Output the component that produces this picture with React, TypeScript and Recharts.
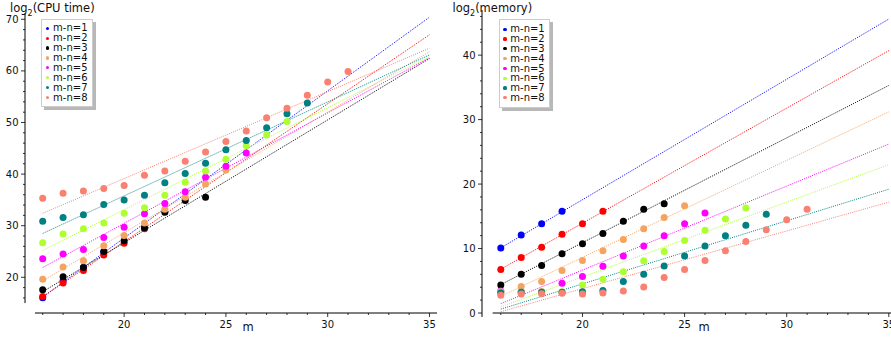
import React from 'react';
import { ComposedChart, Scatter, Line, XAxis, YAxis, ReferenceLine } from 'recharts';

// first m of every series
const firstM = 16;
const fitM = [16, 35];

const seriesNames = ['m-n=1', 'm-n=2', 'm-n=3', 'm-n=4', 'm-n=5', 'm-n=6', 'm-n=7', 'm-n=8'];
const seriesColors = ['#0000ff', '#ff0000', '#000000', '#f4a460', '#ff00ff', '#adff2f', '#008080', '#fa8072'];

// log2(CPU time), one list per m-n, starting at m = 16
const cpuTime = [
  [16.05, 19.3, 21.9, 24.9],
  [16.3, 18.9, 21.3, 24.3, 26.6, 29.4],
  [17.6, 20.1, 21.9, 25.0, 27.1, 29.6, 32.6, 34.9, 35.5],
  [19.6, 22.0, 23.2, 26.1, 28.1, 30.5, 33.2, 35.5, 38.1, 40.8],
  [23.6, 24.5, 25.4, 27.7, 29.7, 32.3, 34.3, 36.6, 39.4, 41.5, 44.1],
  [26.7, 28.4, 29.4, 30.5, 32.4, 33.5, 35.9, 38.4, 40.6, 42.9, 45.5, 47.6, 50.2],
  [30.85, 31.6, 32.1, 34.1, 35.0, 35.9, 38.3, 40.1, 42.1, 44.7, 46.5, 49.0, 51.7, 53.8],
  [35.3, 36.3, 36.7, 37.2, 37.8, 39.8, 40.6, 42.5, 44.3, 46.3, 48.35, 50.9, 52.75, 55.3, 57.85, 59.9],
];
// fitted lines, value at m = 16 and m = 35
const cpuFit = [
  [16.2, 70.4],
  [16.2, 67.0],
  [17.2, 62.4],
  [19.3, 63.7],
  [21.9, 62.55],
  [25.2, 62.75],
  [28.5, 63.1],
  [32.4, 64.4],
];

// log2(memory)
const memory = [
  [10.1, 12.1, 13.85, 15.8],
  [6.75, 8.6, 10.2, 12.2, 13.85, 15.8],
  [4.35, 6.0, 7.35, 9.2, 10.75, 12.35, 14.25, 16.1, 16.95],
  [3.3, 4.1, 4.9, 6.6, 8.15, 9.65, 11.4, 13.05, 14.8, 16.65],
  [3.4, 3.3, 3.3, 4.6, 5.65, 7.25, 8.85, 10.4, 12.0, 13.85, 15.5],
  [3.3, 3.3, 3.3, 3.3, 4.35, 5.25, 6.4, 8.1, 9.55, 11.25, 12.85, 14.6, 16.3],
  [3.15, 3.2, 3.2, 3.2, 3.3, 3.5, 4.9, 6.0, 7.3, 8.85, 10.4, 12.0, 13.6, 15.3],
  [2.75, 2.95, 3.0, 3.05, 2.95, 3.1, 3.4, 4.05, 5.5, 6.75, 8.15, 9.65, 11.1, 12.9, 14.45, 16.1],
];
const memoryFit = [
  [10.1, 45.6],
  [6.8, 40.7],
  [4.4, 35.3],
  [2.6, 31.2],
  [1.45, 26.2],
  [0.95, 23.0],
  [0.6, 19.2],
  [0.2, 17.2],
];

const xTicks = [16, 17, 18, 19, 20, 21, 22, 23, 24, 25, 26, 27, 28, 29, 30, 31, 32, 33, 34, 35];
const cpuTicks = [16, 18, 20, 22, 24, 26, 28, 30, 32, 34, 36, 38, 40, 42, 44, 46, 48, 50, 52, 54, 56, 58, 60, 62, 64, 66, 68, 70];
const memoryTicks = [0, 2, 4, 6, 8, 10, 12, 14, 16, 18, 20, 22, 24, 26, 28, 30, 32, 34, 36, 38, 40, 42, 44, 46];

const FONT = '"DejaVu Sans", sans-serif';

const toPoints = (vals: number[]) => vals.map((v, i) => ({ m: firstM + i, v }));
const toFit = (ends: number[]) => ends.map((v, i) => ({ m: fitM[i], v }));

const XTick = ({ x, y, payload }: any) => {
  const major = payload.value % 5 === 0;
  return (
    <g>
      <line x1={x} x2={x} y1={y} y2={y + (major ? 4 : 2)} stroke="#000" strokeWidth={0.8} />
      {major && (
        <text x={x} y={y + 15} textAnchor="middle" fontSize={10} fontFamily={FONT} fill="#111">
          {payload.value}
        </text>
      )}
    </g>
  );
};

const YTick = ({ x, y, payload }: any) => {
  const major = payload.value % 10 === 0;
  return (
    <g>
      <line x1={x - (major ? 4 : 2)} x2={x} y1={y} y2={y} stroke="#000" strokeWidth={0.8} />
      {major && (
        <text x={x - 6.5} y={y + 3.6} textAnchor="end" fontSize={10} fontFamily={FONT} fill="#111">
          {payload.value}
        </text>
      )}
    </g>
  );
};

interface PanelProps {
  width: number;
  height: number;
  margin: { top: number; right: number; bottom: number; left: number };
  yAxisWidth: number;
  xDomain: [number, number];
  yDomain: [number, number];
  yTicks: number[];
  points: number[][];
  fits: number[][];
  xAxisFrom: number;
  yAxisFrom: number;
}

const Panel = ({ width, height, margin, yAxisWidth, xDomain, yDomain, yTicks, points, fits, xAxisFrom, yAxisFrom }: PanelProps) => (
  <ComposedChart width={width} height={height} margin={margin}>
    <XAxis
      dataKey="m"
      type="number"
      domain={xDomain}
      ticks={xTicks}
      interval={0}
      allowDataOverflow
      axisLine={false}
      tickLine={false}
      tickSize={0}
      tickMargin={0}
      height={25}
      tick={<XTick />}
    />
    <YAxis
      dataKey="v"
      type="number"
      domain={yDomain}
      ticks={yTicks}
      interval={0}
      allowDataOverflow
      axisLine={false}
      tickLine={false}
      tickSize={0}
      tickMargin={0}
      width={yAxisWidth}
      tick={<YTick />}
    />
    <ReferenceLine
      segment={[{ x: xAxisFrom, y: yDomain[0] }, { x: xDomain[1], y: yDomain[0] }]}
      stroke="#000"
      strokeWidth={1}
      ifOverflow="visible"
    />
    <ReferenceLine
      segment={[{ x: xDomain[0], y: yAxisFrom }, { x: xDomain[0], y: yDomain[1] }]}
      stroke="#000"
      strokeWidth={1}
      ifOverflow="visible"
    />
    {fits.map((f, i) => (
      <Line
        key={'fit' + i}
        data={toFit(f)}
        dataKey="v"
        type="linear"
        stroke={seriesColors[i]}
        strokeWidth={1}
        strokeDasharray="1 1.2"
        dot={false}
        activeDot={false}
        isAnimationActive={false}
      />
    ))}
    {points.map((p, i) => (
      <Scatter
        key={'pts' + i}
        name={seriesNames[i]}
        data={toPoints(p)}
        dataKey="v"
        fill={seriesColors[i]}
        isAnimationActive={false}
        shape={(s: any) => <circle cx={s.cx} cy={s.cy} r={3.5} fill={seriesColors[i]} />}
      />
    ))}
  </ComposedChart>
);

const LegendBox = ({ left, top, width, height, first, step, dotX, textX }: any) => (
  <div
    style={{
      position: 'absolute',
      left,
      top,
      width,
      height,
      background: '#fff',
      border: '1px solid #ccc',
      boxShadow: '3px 3px 0 #b8b8b8',
      boxSizing: 'border-box',
      fontFamily: FONT,
      fontSize: 10,
      color: '#111',
    }}
  >
    {seriesNames.map((name, i) => (
      <div key={name} style={{ position: 'absolute', left: 0, top: first + i * step - 6, height: 12, lineHeight: '12px', whiteSpace: 'nowrap' }}>
        <span
          style={{
            position: 'absolute',
            left: dotX - 1.6,
            top: 4.4,
            width: 3.2,
            height: 3.2,
            borderRadius: '50%',
            background: seriesColors[i],
          }}
        />
        <span style={{ position: 'absolute', left: textX }}>{name}</span>
      </div>
    ))}
  </div>
);

const App = () => (
  <div style={{ position: 'absolute', left: 0, top: 0, width: 891, height: 338, overflow: 'hidden', background: '#fff' }}>
    <div style={{ position: 'absolute', left: 0, top: 0 }}>
      <Panel
        width={445}
        height={338}
        margin={{ top: 13, right: 8, bottom: 0, left: 0 }}
        yAxisWidth={25}
        xDomain={[15.13, 35.37]}
        yDomain={[13.08, 71.22]}
        yTicks={cpuTicks}
        points={cpuTime}
        fits={cpuFit}
        xAxisFrom={15.62}
        yAxisFrom={15.0}
      />
    </div>
    <div style={{ position: 'absolute', left: 445, top: 0 }}>
      <Panel
        width={453}
        height={338}
        margin={{ top: 10, right: 0, bottom: 0, left: 0 }}
        yAxisWidth={37}
        xDomain={[15.08, 35.45]}
        yDomain={[0, 47.0]}
        yTicks={memoryTicks}
        points={memory}
        fits={memoryFit}
        xAxisFrom={15.6}
        yAxisFrom={-0.62}
      />
    </div>
    <svg width={891} height={338} style={{ position: 'absolute', left: 0, top: 0, pointerEvents: 'none' }}>
      <text x={10} y={11.5} fontSize={11.5} fontFamily={FONT} fill="#111">
        <tspan>log</tspan>
        <tspan dy={4.5} fontSize={8}>2</tspan>
        <tspan dy={-4.5}>(CPU time)</tspan>
      </text>
      <text x={452.5} y={11.5} fontSize={11.5} fontFamily={FONT} fill="#111">
        <tspan>log</tspan>
        <tspan dy={4.5} fontSize={8}>2</tspan>
        <tspan dy={-4.5}>(memory)</tspan>
      </text>
      <text x={248} y={331} fontSize={11.5} textAnchor="middle" fontFamily={FONT} fill="#111">m</text>
      <text x={704} y={331} fontSize={11.5} textAnchor="middle" fontFamily={FONT} fill="#111">m</text>
    </svg>
    <LegendBox left={40.5} top={19} width={52.5} height={88} first={8.3} step={9.9} dotX={6} textX={11.6} />
    <LegendBox left={498.5} top={19} width={51.5} height={89} first={9.3} step={9.8} dotX={5.5} textX={10.8} />
  </div>
);

export default App;
